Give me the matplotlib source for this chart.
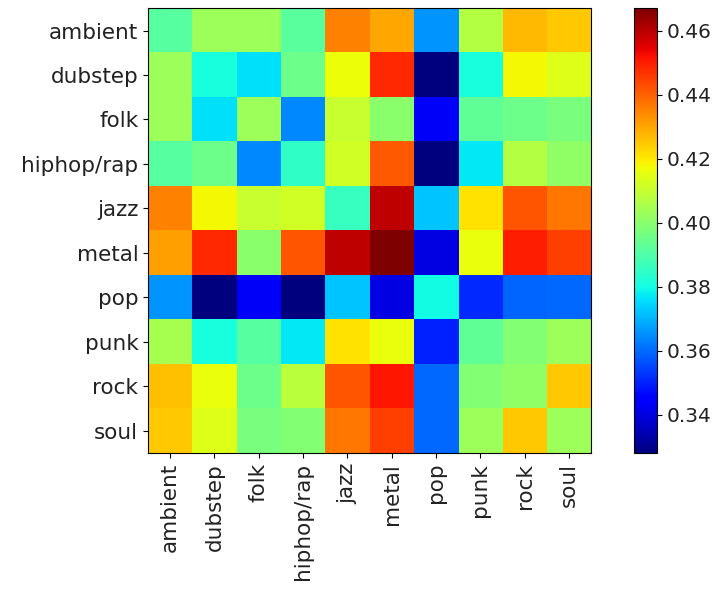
import numpy as np
import matplotlib
matplotlib.use("Agg")
import matplotlib.pyplot as plt

genres = ["ambient", "dubstep", "folk", "hiphop/rap", "jazz",
          "metal", "pop", "punk", "rock", "soul"]

# similarity values (rows = columns = genres)
ambient = [0.391, 0.403, 0.403, 0.392, 0.435, 0.430, 0.366, 0.407, 0.427, 0.425]
dubstep = [0.403, 0.381, 0.376, 0.395, 0.417, 0.448, 0.328, 0.381, 0.418, 0.414]
folk    = [0.403, 0.376, 0.403, 0.364, 0.410, 0.400, 0.343, 0.393, 0.395, 0.397]
hiphop  = [0.391, 0.395, 0.364, 0.385, 0.412, 0.441, 0.328, 0.377, 0.407, 0.401]
jazz    = [0.435, 0.418, 0.410, 0.412, 0.386, 0.459, 0.372, 0.421, 0.442, 0.437]
metal   = [0.431, 0.448, 0.400, 0.442, 0.459, 0.467, 0.340, 0.416, 0.450, 0.445]
pop     = [0.366, 0.328, 0.343, 0.328, 0.372, 0.340, 0.380, 0.351, 0.359, 0.360]
punk    = [0.405, 0.381, 0.391, 0.377, 0.421, 0.416, 0.350, 0.393, 0.399, 0.403]
rock    = [0.426, 0.416, 0.395, 0.408, 0.442, 0.451, 0.360, 0.399, 0.401, 0.425]
soul    = [0.425, 0.414, 0.397, 0.399, 0.437, 0.445, 0.360, 0.403, 0.425, 0.403]

mat = np.array([ambient, dubstep, folk, hiphop, jazz,
                metal, pop, punk, rock, soul])

fig = plt.figure(figsize=(7.22, 5.90), dpi=100)
ax = fig.add_axes([0.205, 0.232, 0.6136, 0.754])
cax = fig.add_axes([0.878, 0.232, 0.032, 0.754])

im = ax.imshow(mat, cmap="jet", aspect="auto")
ax.set_xticks(range(len(genres)))
ax.set_xticklabels(genres, rotation=90, fontsize=15.5, color="#222")
ax.set_yticks(range(len(genres)))
ax.set_yticklabels(genres, fontsize=15.5, color="#222")

cb = fig.colorbar(im, cax=cax)
cb.set_ticks([0.34, 0.36, 0.38, 0.40, 0.42, 0.44, 0.46])
cb.ax.tick_params(labelsize=14.5, labelcolor="#222")

fig.savefig("out.png", dpi=100)
